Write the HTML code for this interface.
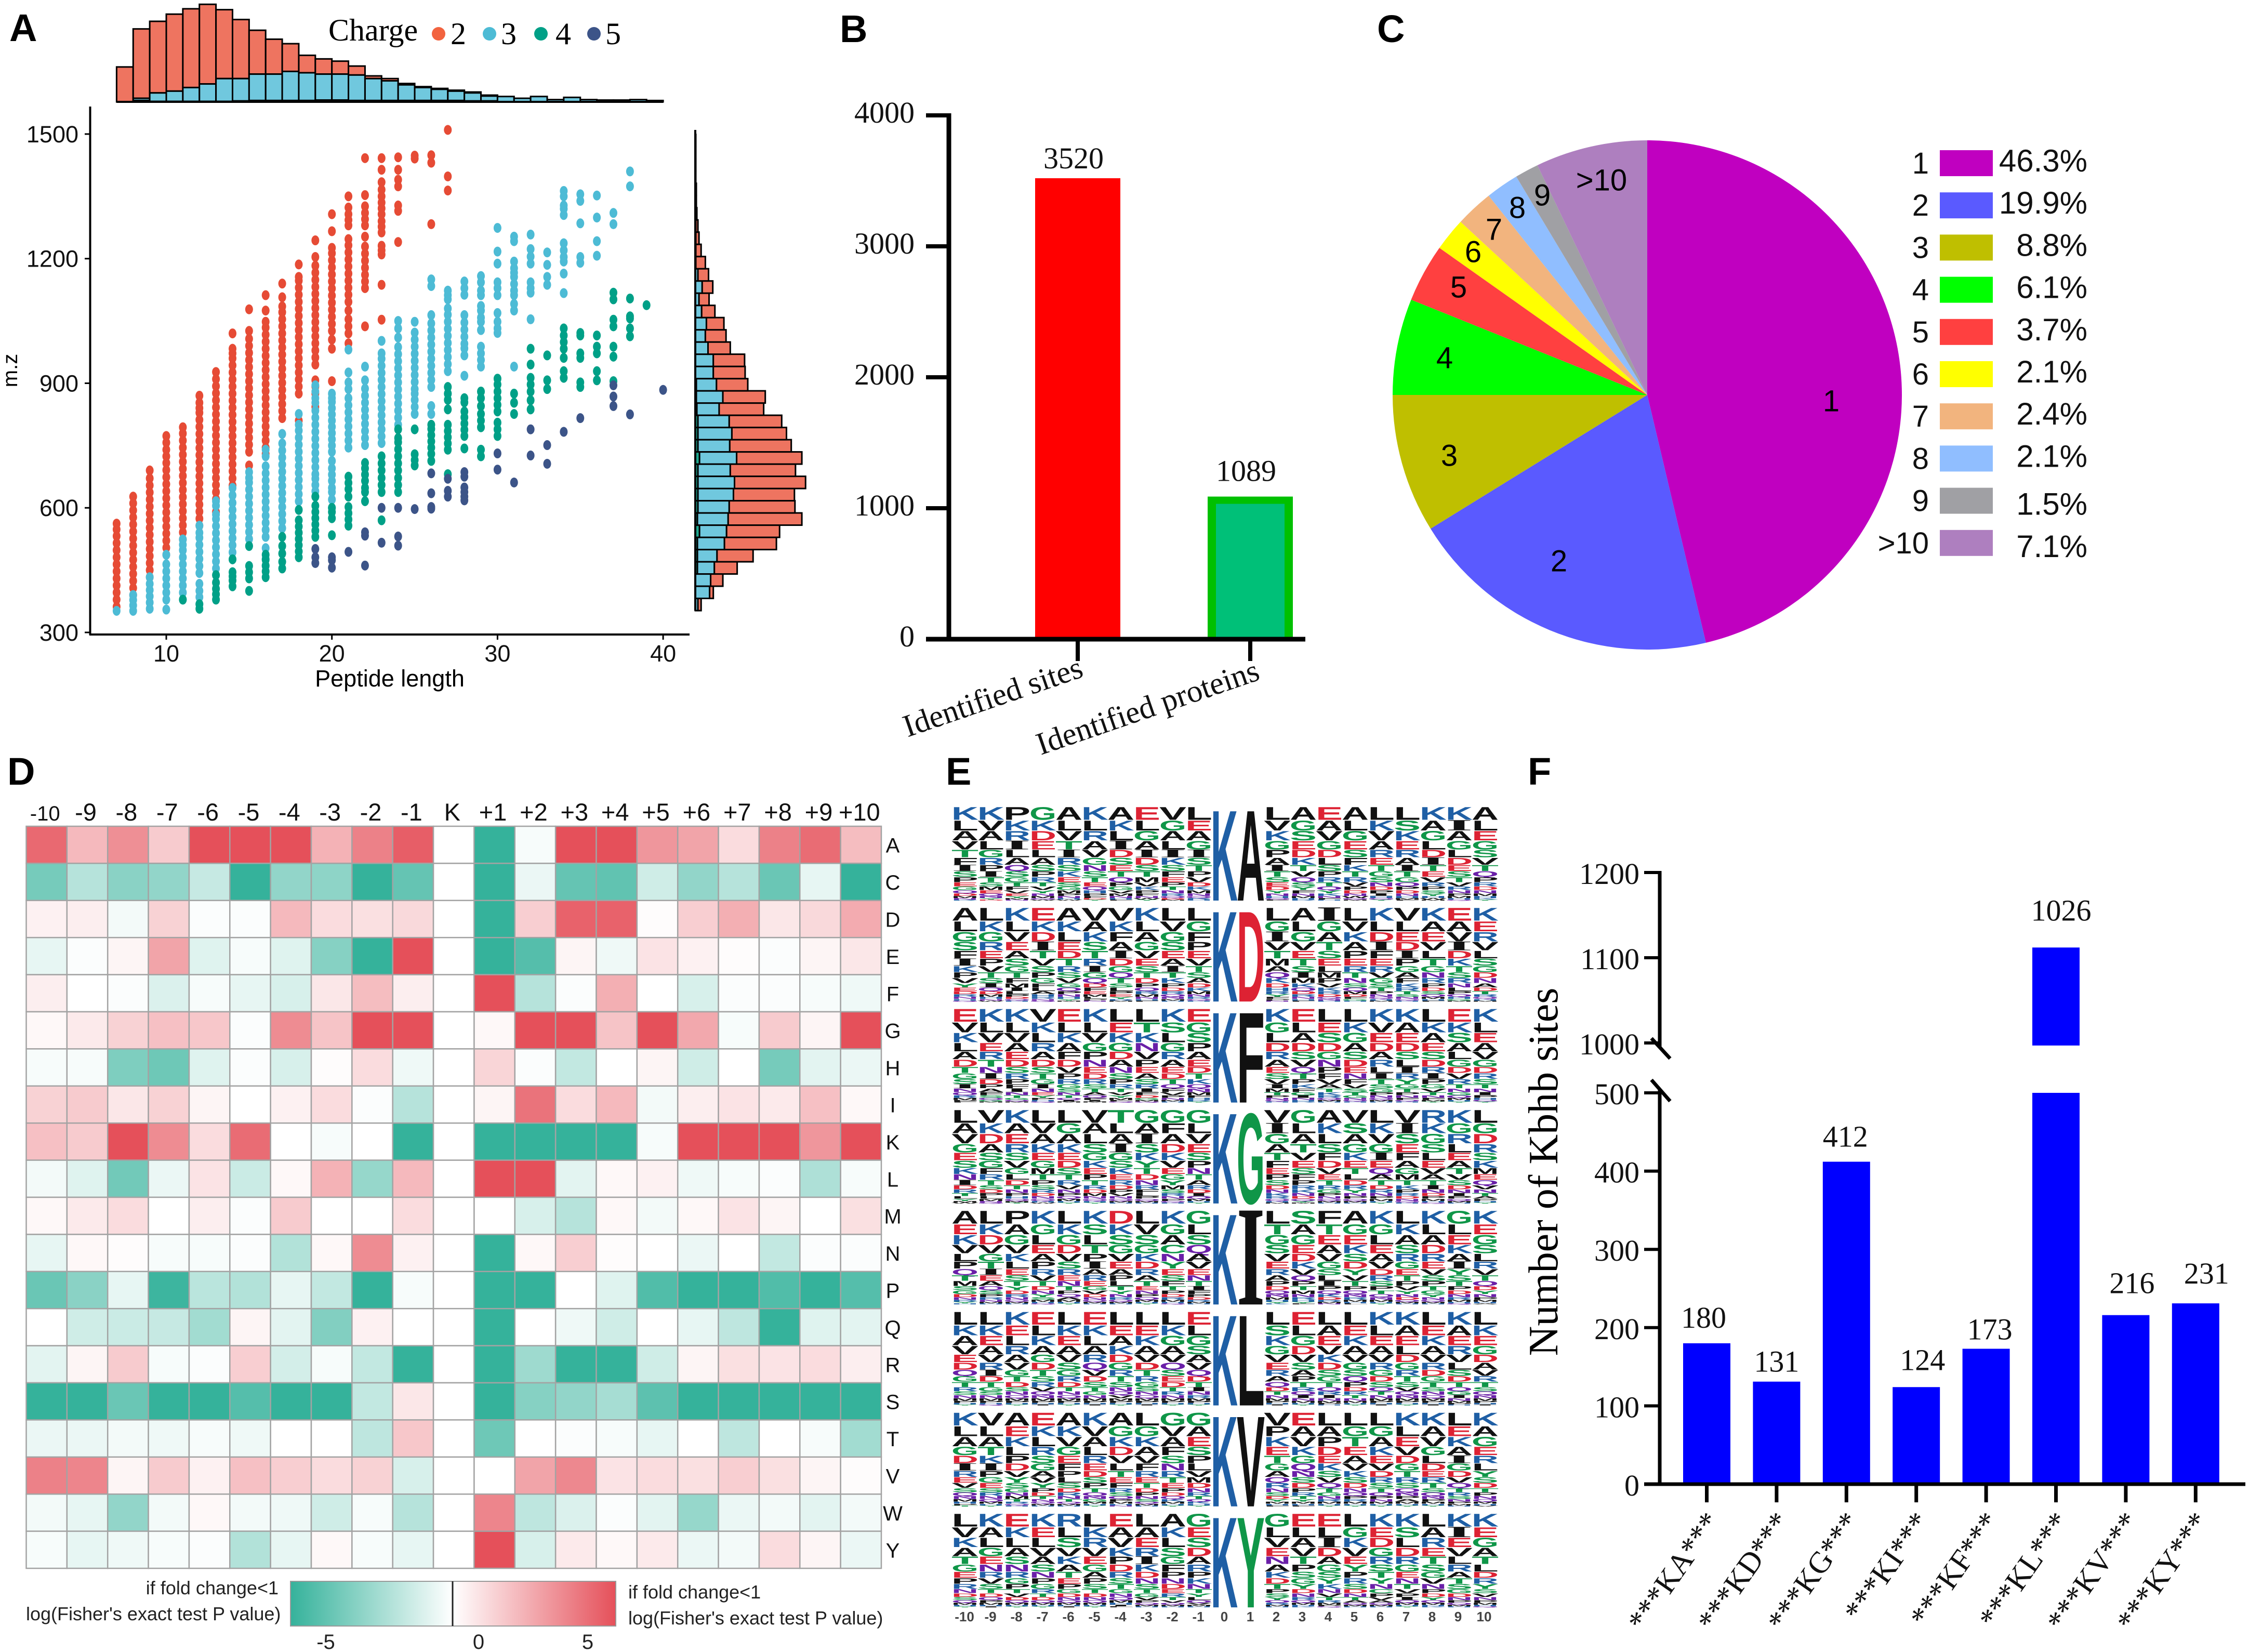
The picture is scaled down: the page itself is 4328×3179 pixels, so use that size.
<!DOCTYPE html>
<html lang="en">
<head>
<meta charset="utf-8">
<title>Kbhb proteomics multi-panel figure</title>
<style>
html,body{margin:0;padding:0;background:#fff;}
svg{display:block;}
.sans{font-family:"Liberation Sans",sans-serif;}
.serif{font-family:"Liberation Serif",serif;}
.panel-letter{font-family:"Liberation Sans",sans-serif;font-weight:bold;font-size:74px;fill:#000;}
</style>
</head>
<body>
<svg id="figure" xmlns="http://www.w3.org/2000/svg" width="4328" height="3179" viewBox="0 0 4328 3179">
<defs>
<linearGradient id="gradGreen" x1="0" x2="1" y1="0" y2="0"><stop offset="0" stop-color="#35B29B"/><stop offset="1" stop-color="#ffffff"/></linearGradient>
<linearGradient id="gradRed" x1="0" x2="1" y1="0" y2="0"><stop offset="0" stop-color="#ffffff"/><stop offset="1" stop-color="#E5505A"/></linearGradient>
</defs>
<rect width="4328" height="3179" fill="#fff"/>

<text class="panel-letter" x="18" y="79">A</text>
<text class="panel-letter" x="1616" y="81">B</text>
<text class="panel-letter" x="2650" y="81">C</text>
<text class="panel-letter" x="14" y="1510">D</text>
<text class="panel-letter" x="1820" y="1510">E</text>
<text class="panel-letter" x="2940" y="1510">F</text>

<g id="panelA">
  <text class="serif" x="632" y="78" font-size="60">Charge</text>
  <circle cx="844" cy="65" r="13" fill="#F2633F"/>
  <text class="serif" x="867" y="85" font-size="60">2</text>
  <circle cx="942" cy="65" r="13" fill="#4DBBD5"/>
  <text class="serif" x="964" y="85" font-size="60">3</text>
  <circle cx="1041" cy="65" r="13" fill="#00A087"/>
  <text class="serif" x="1069" y="85" font-size="60">4</text>
  <circle cx="1143" cy="65" r="13" fill="#3C5488"/>
  <text class="serif" x="1165" y="85" font-size="60">5</text>
  <text class="sans" x="750" y="1321" font-size="45" text-anchor="middle">Peptide length</text>
  <text class="sans" transform="translate(33,713) rotate(-90)" font-size="40" text-anchor="middle">m.z</text>
</g>

<g id="panelB"></g>

<g id="panelC">
  <g id="pieSlices"></g>
  <g class="sans" font-size="58" text-anchor="middle" dominant-baseline="central">
    <text x="3524" y="772" dominant-baseline="central">1</text>
    <text x="3000" y="1080" dominant-baseline="central">2</text>
    <text x="2789" y="877" dominant-baseline="central">3</text>
    <text x="2780" y="689" dominant-baseline="central">4</text>
    <text x="2807" y="553" dominant-baseline="central">5</text>
    <text x="2835" y="485" dominant-baseline="central">6</text>
    <text x="2875" y="442" dominant-baseline="central">7</text>
    <text x="2920" y="400" dominant-baseline="central">8</text>
    <text x="2968" y="376" dominant-baseline="central">9</text>
    <text x="3082" y="347" dominant-baseline="central">&gt;10</text>
  </g>
  <g id="pieLegend"></g>
</g>

<g id="panelD">
  <g id="heatCells"></g>
  <rect x="559" y="3043" width="312" height="86" fill="url(#gradGreen)"/>
  <rect x="871" y="3043" width="314" height="86" fill="url(#gradRed)"/>
  <rect x="559" y="3043" width="626" height="86" fill="none" stroke="#999" stroke-width="2"/>
  <line x1="871" x2="871" y1="3043" y2="3129" stroke="#222" stroke-width="3"/>
  <g class="sans" font-size="36" fill="#222">
    <text x="536" y="3068" text-anchor="end">if fold change&lt;1</text>
    <text x="50" y="3118">log(Fisher's exact test P value)</text>
    <text x="1209" y="3076">if fold change&lt;1</text>
    <text x="1209" y="3126">log(Fisher's exact test P value)</text>
  </g>
  <g class="sans" font-size="40" fill="#222" text-anchor="middle">
    <text x="627" y="3173">-5</text>
    <text x="921" y="3173">0</text>
    <text x="1131" y="3173">5</text>
  </g>
</g>

<g id="panelE"></g>

<g id="panelF">
  <text class="serif" transform="translate(2997,2255) rotate(-90)" font-size="80" text-anchor="middle">Number of Kbhb sites</text>
  <line x1="3178" y1="1998" x2="3214" y2="2037" stroke="#000" stroke-width="7"/>
  <line x1="3178" y1="2078" x2="3214" y2="2119" stroke="#000" stroke-width="7"/>
</g>

<script>
/* ---------- Panel A data ---------- */
const charge2Lengths=[7,8,9,10,11,12,13,14,15,16,17,18,19,20,21,22,23,24,25,26,27];
const charge2MZ=[
[362,379,396,413,430,447,464,481,498,515,532,548,562],
[390,407,424,441,458,475,492,509,526,543,560,577,594,611,627],
[433,450,467,484,501,518,535,552,569,586,603,620,637,654,671,690],
[487,504,521,538,555,572,589,606,623,640,657,674,691,708,724,740,757,773],
[524,541,558,575,592,609,626,643,660,677,694,711,728,745,762,779,794],
[557,574,591,608,625,642,659,676,693,710,727,744,761,778,795,812,829,840,853,870],
[590,621,638,655,672,689,706,723,740,757,774,791,808,825,842,859,876,893,910,927],
[654,671,688,705,722,739,756,773,790,807,824,841,858,875,892,909,926,943,960,972,983,1020],
[702,735,752,769,786,803,820,837,854,871,888,905,922,939,956,973,990,1007,1026,1078],
[730,745,762,779,796,813,830,847,864,881,898,915,932,949,966,983,1000,1017,1034,1048,1075,1112],
[816,833,850,867,884,901,918,935,952,969,986,1003,1020,1037,1054,1071,1085,1107,1140],
[810,875,892,909,926,943,960,977,994,1011,1028,1045,1062,1079,1096,1113,1130,1147,1156,1186],
[843,875,892,907,945,962,979,996,1013,1030,1047,1064,1081,1098,1115,1132,1149,1166,1183,1204,1244],
[905,983,1005,1026,1043,1060,1077,1094,1111,1128,1145,1162,1179,1196,1213,1226,1266,1307],
[996,1020,1037,1054,1075,1096,1113,1130,1147,1164,1181,1198,1215,1232,1247,1280,1293,1307,1323,1350],
[1037,1129,1145,1161,1178,1195,1212,1229,1253,1280,1295,1310,1326,1353,1442],
[1053,1137,1210,1220,1231,1263,1277,1290,1307,1321,1335,1350,1366,1384,1414,1442],
[1240,1315,1328,1374,1390,1414,1444],
[1441,1448],
[1283,1431,1449],
[1364,1398,1510]];
const charge3Lengths=[7,8,9,10,11,12,13,14,15,16,17,18,19,20,21,22,23,24,25,26,27,28,29,30,31,32,33,34,35,36,37,38];
const charge3MZ=[
[352],[352,365,378,390],[357,372,387,402,417,433],
[355,379,396,413,430,447,464,487],
[379,396,413,430,447,464,481,498,511,524],
[368,385,400,417,443,460,477,494,511,528,540,557],
[454,471,488,505,522,539,556,573,584,605,616],
[476,493,510,527,544,561,578,595,612,630,648],
[508,525,542,559,576,593,610,627,644,661,672,686],
[460,477,503,530,547,564,581,598,615,632,649,666,683,700,724,740],
[551,568,585,602,619,636,653,670,687,704,721,738,755,778],
[595,616,633,650,667,684,701,718,735,752,769,786,800,826],
[627,640,655,670,681,698,715,732,749,766,783,800,817,834,853,864,880,895],
[600,620,638,648,665,680,695,713,735,750,765,780,795,810,825,840,855,864,875],
[745,762,779,796,813,830,847,864,886,902,926,981],
[751,768,785,802,819,836,853,870,887,907,940],
[756,772,789,806,823,840,857,874,891,908,925,942,959,972,1002],
[800,817,834,851,868,885,902,919,936,953,970,987,1010,1032,1050],
[826,843,860,875,886,903,920,937,954,971,988,1005,1022,1048],
[826,845,891,908,925,942,959,976,993,1010,1027,1044,1064,1134,1150],
[875,929,946,963,980,997,1014,1031,1048,1065,1080,1102,1112,1123],
[918,967,984,995,1012,1029,1046,1064,1113,1129,1145],
[940,956,972,988,1028,1048,1058,1075,1086,1112,1123,1143,1158],
[1021,1032,1048,1069,1112,1129,1143,1188,1217,1274],
[940,1075,1091,1112,1123,1139,1156,1166,1177,1193,1242,1253],
[1054,1118,1129,1143,1188,1205,1223,1258],
[1137,1156,1185,1215],
[1117,1164,1193,1204,1220,1237,1305,1320,1328,1350,1363],
[1190,1204,1285,1339,1355],
[1207,1242,1299,1352],
[1283,1310],
[1374,1410]];
const charge4Lengths=[11,12,13,14,15,16,17,18,19,20,21,22,23,24,25,26,27,28,29,30,31,32,33,34,35,36,37,38,39];
const charge4MZ=[
[379],[357,368],[379,392,405,420,438],[411,425,435,445,476],[400,430,445,460,508],
[433,447,461,475,487],[454,470,490,508,530],[481,495,510,525,540,555,570,595],
[530,545,560,575,590,605,627],[534,575,590,600],[557,572,587,602,627,645,660,675],
[616,638,648,665,680,695,708],[570,638,655,672,690,707,724],
[638,655,672,690,707,724,741,758,768,789],[702,715,729,789],[713,730,745,760,775,790,800],
[681,740,755,770,785,800,837,860,875,891],[743,773,788,803,818,832,854,864],
[724,740,794,810,826,845,864,880],[773,789,805,832,848,864,880,897,911],[826,853,875],
[837,859,880,897,913,945,983],[886,907,967],[913,929,961,983,999,1015,1032],
[891,902,961,972,1015,1021],[907,929,972,988,1015],[905,964,988,1037,1053,1102,1118],
[1013,1032,1056,1061,1104],[1088]];
const charge5Lengths=[19,20,21,22,23,24,25,26,27,28,30,31,32,33,34,35,37,38,40];
const charge5MZ=[
[467,481,501],[456,474,481],[494],[461,533,541],[516,600],[509,531,600],[597],
[598,602,635,683],[627,641,670],[618,627,638,649,675,686],[692,731],[661],[726,789],
[706,751],[783],[816],[845,868,895],[825],[884]];
/* top histogram: counts per peptide-length bin (bins start at length 7) */
const topHistCharge4=[0,3,1,1,1,1,1,2,3,3,3,3,4,4,3,3,3,3,3,3,3,2,2,0,0,0,0,0,0,0,0,0,0];
const topHistCharge3=[0,5,19,23,31,39,51,50,59,59,65,62,58,58,57,49,44,35,29,25,21,18,11,12,8,12,5,10,5,4,4,5,3];
const topHistCharge2=[78,155,160,172,176,178,154,132,98,78,62,39,34,29,20,6,5,3,2,2,2,2,2,0,0,0,0,0,0,0,0,0,0];
/* right histogram: counts per m/z bin from low to high */
const rightHistCharge4=[0,0,0,4,4,4,8,4,5,5,5,5,8,5,5,5,3,2,2,0,0,0,0,0,0,0,0,0,0,0,0,0,0,0,0,0,0,0,0];
const rightHistCharge3=[5,27,29,32,37,51,51,58,59,67,69,61,70,60,64,59,42,50,38,34,34,24,19,21,12,7,13,5,1,1,1,1,0,0,0,0,0,0,0];
const rightHistCharge2=[6,7,23,43,68,98,100,139,124,115,134,123,123,116,103,99,84,80,59,60,59,42,39,33,25,19,20,20,18,10,6,4,3,2,2,1,1,1,1];
const lengthTicks=[10,20,30,40];
const mzTicks=[300,600,900,1200,1500];

/* ---------- Panel B data ---------- */
const identifiedCategories=["Identified sites","Identified proteins"];
const identifiedValues=[3520,1089];
const identifiedTicks=[0,1000,2000,3000,4000];

/* ---------- Panel C data ---------- */
const pieCategories=["1","2","3","4","5","6","7","8","9",">10"];
const piePercents=[46.3,19.9,8.8,6.1,3.7,2.1,2.4,2.1,1.5,7.1];
const pieColors=["#C000C0","#5A5AFF","#BFBF00","#00FF00","#FF4040","#FFFF00","#F2B47E","#90BEFF","#A0A0A4","#AE7FBF"];

/* ---------- Panel D data ---------- */
const heatColumns=["-10","-9","-8","-7","-6","-5","-4","-3","-2","-1","K","+1","+2","+3","+4","+5","+6","+7","+8","+9","+10"];
const heatRows=["A","C","D","E","F","G","H","I","K","L","M","N","P","Q","R","S","T","V","W","Y"];
const heatA=[4.3,2,3.2,1.5,5,5,5,2.2,3.6,4.6,0,-5,-.2,5,5,3,2.6,1,3.6,4.2,1.9];
const heatC=[-3.4,-1.8,-2.9,-2.7,-1.4,-5,-2.7,-2.8,-5,-3.8,0,-5,-.5,-3.8,-3.9,-1.2,-2.7,-1.8,-3.7,-.6,-5];
const heatD=[.4,.5,-.3,1.3,-.1,-.1,2,1,.9,1.1,0,-5,1.4,4.5,4.5,.1,1.4,2.3,.7,1.1,2.4];
const heatE=[-.6,-.1,.3,2.6,-.8,-.2,-.8,-3,-5,5,0,-5,-4.2,.3,-.4,.8,.4,.1,-.1,.3,.7];
const heatF=[.5,0,-.1,-.9,-.2,-.6,-1,.7,1.9,.5,0,5,-1.8,-.1,2.3,0,-1,-.1,-.1,-.2,-.4];
const heatG=[.2,.6,1.3,1.8,1.6,-.1,3.3,1.7,5,5,0,.2,5,5,1.7,5,2.5,-.2,1.5,.3,5];
const heatH=[-.2,-.2,-3.2,-3.6,-.8,-.1,-1,.1,1,-.4,0,1.2,-.1,-1.5,0,.3,-1.2,0,-3.4,-.7,-.5];
const heatI=[1.3,1.5,.7,1.3,.3,0,.4,1,-.1,-1.8,0,.3,4,1,2,-.3,.5,.8,.6,1.8,.2];
const heatK=[1.8,1.5,5,3.3,1,4.2,0,-.2,0,-5,0,-5,-5,-5,-5,-.2,5,5,5,3,5];
const heatL=[-.3,-.8,-3.5,-.5,.8,-1.3,.2,2.2,-2.6,2,0,5,5,-.7,.2,.4,-.4,-.2,-.1,-2,-.2];
const heatM=[.2,.6,1,0,.5,-.1,1.5,0,0,1,0,0,-1,-1.8,.2,-.3,.2,.8,.3,0,.9];
const heatN=[-.6,.2,.1,-.2,-.2,-.1,-1.9,.2,3.3,.4,0,-5,.2,1.4,.1,0,-.5,0,-1.5,-.1,-.1];
const heatP=[-3.7,-2.9,-.6,-4.8,-1.7,-1.9,-.6,-1.5,-5,-.2,0,-5,-5,0,-.8,-4.3,-5,-5,-4.3,-5,-4.2];
const heatQ=[0,-1.2,-1.3,-1.4,-2.3,.3,-.7,-3.1,.4,0,0,-5,0,-.4,-1.2,0,-.6,-1.6,-5,-.8,-.7];
const heatR=[-.7,.3,1.5,-.2,-.1,1.4,-1.1,-.2,-1.5,-5,0,-5,-2.4,-5,-5,-1.2,.3,.9,.8,1,.5];
const heatS=[-5,-5,-3.7,-5,-5,-4.2,-5,-5,-1.5,.7,0,-5,-3,-2.7,-2.2,-4,-5,-5,-5,-5,-5];
const heatT=[-.5,-.5,-.3,-.4,-.2,-.4,0,0,-1.6,1.6,0,-3.6,0,-.1,-.2,-.6,0,-1.6,0,-.2,-2.3];
const heatV=[3.6,3.5,.3,1.5,.4,1.8,1.4,1,1.3,-1,0,0,2.6,3.4,.8,1,.9,1.4,.9,.3,.1];
const heatW=[-.3,-.6,-2.7,-.3,.2,-.3,-.4,-1.2,-.2,-1.8,0,3.5,-1.6,-.9,-.1,-.7,-2.6,-.5,-.3,-.7,-.3];
const heatY=[-.2,-.6,-.4,-.2,-.1,-1.9,-.6,.2,-.2,-.6,0,5,-1,.6,.2,.6,-.5,-.3,1,.3,-.5];
const heatMatrix=[heatA,heatC,heatD,heatE,heatF,heatG,heatH,heatI,heatK,heatL,heatM,heatN,heatP,heatQ,heatR,heatS,heatT,heatV,heatW,heatY];

/* ---------- Panel E data: per-position residues, most to least frequent ---------- */
const logoResidueShare=[26,20,19,17,15,14,12,11,10,8,7,6,5,4,3,2];
const logoPositions=["-10","-9","-8","-7","-6","-5","-4","-3","-2","-1","0","1","2","3","4","5","6","7","8","9","10"];
const logoCentral=["A","D","F","G","I","L","V","Y"];
const logoKA="KLAVTFISPEGQDMNR KVALGRPITSMEQNYD PKRILAQSGTFVEYMN GKDELASPRTVYNMQW ALVTIRSKESGMPNHW KLRAVGNSTEQHPFDY AKLIDSETQPGVMNHF ELGAIDSTMVKPFNWY VGALIKSFEPTNRQDM LEAGISTPVDKMNQRH LVKGPAITSEDYNHQF AGSEDKTVQSYFNMHR EAVGDLSPRTQYKNFH ALGESFKTRVPDNWQM LKVARETGSNDPIHQY LSKERAITGQPDNHMF KAGLDITEVRPSYHWM KIAGLDESTVRNPMHQ ALEGSVTQPRDNMHKY".split(" ");
const logoKD="ALGSFIKPVYEDRNHQ LKGREPVTSIQDMHNW KLVEASGTFMILPDQH EKDITVSPGFLAHRNQ AKLEDTRSVGQPNHYM VAKSTRIGQDFEMLPN VKFAIDGQTSLPEYRM KLAGVESTDPQRMNHF LVGSEAITKPDRQNMH LGFPEVTSADKMNRQH LGIVTMAQKDHRYFPN ALGVETSIMKQDRNHF IGATSELMPVKRDQNH LVKAPERTNSQMDFGH KLDIFERVGSTPNQHM VLEDIPGAFKRTSNQH KAEVLTGNRPDSQMHF EAVIDKTSRNLPQHGM KERVLSGDNADTRQHM".split(" ");
const logoKF="EVKLADTGSINQRMPF KLVERTNIDPAFSQGM KLVAEDSRPFINTGQM VKLRADSTGINEYPHQ ELKAFDVPRGSNTQIM KLVGPNEDRSTAQFIM LEKGDANSPRTVYMFQ LTKNVPEASRIFDGMQ KSLGRAEDTQFVPNMH EGSPAEDTKQNMFHRY KGLDRAESVIMTPNQH ELADSVQTPKFGINHR LESDGNPFVATKRQMH LKGASDENFVSTGNQH KVEDARLITSGPNQMH KAEDSLIRYGTPNFQH LKAESDRIPGVTNFMY EKSALGDVRTNGQMHY KLEAVGDRSTNIPHQY".split(" ");
const logoKG="LAVGESKNIDRTLYMW VKDASGFRTSDPLMNQ KAERSVGLDTNPHQMY LVAKEGMTPSRDNQHW LGAKEDSTRVNPQMHY VALSGKEPTRDMNQHY TLAIGSKERDPVNQMH GAISKYTDNRFLPQMH GFADKVEGYMSRNPQH GLVESPNTARDIQMHY VIGATFEPSDNKRQHM GLATVESFPRKNDQYM AKLSFDVETRGPNQMH VSAGKETLDRYNPQMH LKVGIEQATDRNPMHY VISEFAGMTKPRDNQH RKGSLEVATINDPMHQ KGRLEATVSDNIPQMH LGDRSKMEQVNTAPHY".split(" ");
const logoKI="AEKVLPQTMSGDNRYH LKDVGTIEAQSPRNMH PAGVKLESTYDRNQMH KGLEAPRVTDNYSMHQ LKGDVSRENTPQAMHY KSLTPIAREGVDNQMH DKSGVEAPLTYNRQMH LVSGKDRATENPQMHY KGACNYESFTPDRMHQ GLSQAVENTIFPDRMH LTGSVERAPDQNMHYK SAGEDKVQPTMNRHYF FTEAVGSLIPQKDRMN AGEKSDYVTPQNRMHL KGLEAVDRSPTQNMHY LKASRGETPVYNDQMH KLADREVSPTGYNQMH GLEKAIYSTPDNRMHQ KEGSLRVTQDYNPMHA".split(" ");
const logoKL="LKAVEDQGTRSNMPHY LKEAVRIDTGSNMPHQ KELRAVGTDSNQMPHY ELKAGDTSRVQNMPHI LKEAVSGRDTNQMPHY EKLARQVDSTGNMPHI LEAKDGRTSNQVMPHY LEKAVDTRGSNQMPHI LKGAVQSEDTRNMPHY ELGSAVQDTINRMPHY LSKGVERAQDTNMPHI ELGDVSAPTRQINMHY LAEVKDSGTQRINMPH LEKAVGSQPDRTNMHY KLEAVRGDSQTNMPHI KAELDGRTSVQNMPHY LEKAVRDGTSNQMPHI KAERVLSDTQGINMPH LKEGDAVRTSQNMPHI".split(" ");
const logoKV="KLAGDIREVSQNMHPT VLATKIPGESRNQMHY AEKLPDVYSGNMTRQH EKLRSGAVYPDTNQMH AKVGEFPLSDRNTQMH KVALREDSPTQNGMHY AGKDVLTEFRSQPMHN LGKAVFRETDPNSQMH GVAFSNRTEPDQKMHY GAESPLVMDNRTQKHY VPKETGAQRNSDYMHF EAVKGQNSDPRTYMHF LAPDEKSVQTGNRMHY LGTEAVKSDNQPRMHY LGAKEVDRSTQPNMHY KLEVDGTRSQNPAMHY KAVGLDERTSQNPMHY LEKAIGDVQTRSNPMH KAGERLYSDTPNQMHV".split(" ");
const logoKY="LVKATGEPRNDSQMHY KALGENRVSTDQPMHI EKLASNRGPTVDQMHY KELVASNPGRTDQMHY RLSVKATEPGDNQMHI LKRVEGAPSTDNQMHY EAVKPDRSTGNQMHIL LAERIKDNSTGVPQMH AKLSGFPNDERTVQMH GESDARPKNTYLQVMH GLVENAKDTPSYQRMH ELAVTPSGYDNRQMHK ELIDAGSYKNVTRMPQ LGKVEYPRSDNTAQMH KEDGRSTYNCPVAQMH KSLDRGENTVPIQMHY LARETSGVNPDYQMHK KIEVLRATSGDNPQMH KEGATLDRYSVNPMHQ".split(" ");
const logoMatrix=[logoKA,logoKD,logoKF,logoKG,logoKI,logoKL,logoKV,logoKY];

/* ---------- Panel F data ---------- */
const motifCategories=["***KA***","***KD***","***KG***","***KI***","***KF***","***KL***","***KV***","***KY***"];
const motifBarValues=[180,131,412,124,173,1112,216,231];
const motifPrintedValues=["180","131","412","124","173","1026","216","231"];
const motifTicks=[0,100,200,300,400,500,1000,1100,1200];

/* ---------- drawing ---------- */
const NS="http://www.w3.org/2000/svg";
function add(parent,tag,attrs,text){
  const e=document.createElementNS(NS,tag);
  for(const k in attrs){e.setAttribute(k,attrs[k]);}
  if(text!==undefined){e.textContent=text;}
  parent.appendChild(e);
  return e;
}
const SANS='"Liberation Sans",sans-serif';
const SERIF='"Liberation Serif",serif';

/* Panel A */
(function(){
  const g=document.getElementById('panelA');
  const xA=l=>320+(l-10)*31.87;
  const yA=m=>1217-(m-300)*0.7992;
  const topScale=0.861, topBase=196;
  const xStart=7;
  function topBar(i,base,h,fill){
    const r=add(g,'rect',{x:xA(xStart+i),y:topBase-(base+h)*topScale,width:xA(xStart+i+1)-xA(xStart+i),height:h*topScale,fill:fill,stroke:'#000','stroke-width':3});
    
    
  }
  topHistCharge2.forEach((v,i)=>{
    const a=topHistCharge4[i],b=topHistCharge3[i];
    if(v>0){topBar(i,a+b,v,'#EE7460');}
    if(b>0){topBar(i,a,b,'#70C8DE');}
    if(a>0){topBar(i,0,a,'#1FA88F');}
  });
  const base=add(g,'line',{x1:xA(7),x2:xA(40),y1:topBase,y2:topBase,stroke:'#000','stroke-width':4});
  
  

  const rScale=1.0204, rBase=1338, mzStart=352.5, mzBin=29.4;
  function rightBar(i,start,v,fill){
    const y1=yA(mzStart+i*mzBin), y2=yA(mzStart+(i+1)*mzBin);
    const r=add(g,'rect',{x:rBase+start*rScale,y:y2,width:v*rScale,height:y1-y2,fill:fill,stroke:'#000','stroke-width':3});
    
    
  }
  rightHistCharge2.forEach((v,i)=>{
    const a=rightHistCharge4[i],b=rightHistCharge3[i];
    if(a>0){rightBar(i,0,a,'#1FA88F');}
    if(b>0){rightBar(i,a,b,'#70C8DE');}
    if(v>0){rightBar(i,a+b,v,'#EE7460');}
  });
  const rb=add(g,'line',{x1:rBase,x2:rBase,y1:250,y2:1175,stroke:'#000','stroke-width':4});
  
  

  function scatter(lengths,values,color,name){
    lengths.forEach((l,i)=>{
      values[i].forEach(m=>{
        const c=add(g,'ellipse',{cx:xA(l),cy:yA(m),rx:7.5,ry:9.5,fill:color});
        
        
      });
    });
  }
  scatter(charge2Lengths,charge2MZ,'#E64B35','scatter-point-charge-2');
  scatter(charge3Lengths,charge3MZ,'#4DBBD5','scatter-point-charge-3');
  scatter(charge4Lengths,charge4MZ,'#00A087','scatter-point-charge-4');
  scatter(charge5Lengths,charge5MZ,'#3C5488','scatter-point-charge-5');

  const ax=add(g,'line',{x1:173.5,x2:173.5,y1:205,y2:1222,stroke:'#000','stroke-width':4});
  
  
  const ay=add(g,'line',{x1:172,x2:1327,y1:1221,y2:1221,stroke:'#000','stroke-width':4});
  
  
  lengthTicks.forEach(t=>{
    const k=add(g,'line',{x1:xA(t),x2:xA(t),y1:1221,y2:1231,stroke:'#000','stroke-width':3});
    
    
    const s=add(g,'text',{x:xA(t),y:1273,'font-size':45,'text-anchor':'middle','font-family':SANS,fill:'#111'},String(t));
    
    
  });
  mzTicks.forEach(t=>{
    const k=add(g,'line',{x1:163,x2:173,y1:yA(t),y2:yA(t),stroke:'#000','stroke-width':3});
    
    
    const s=add(g,'text',{x:151,y:yA(t)+16,'font-size':45,'text-anchor':'end','font-family':SANS,fill:'#111'},String(t));
    
    
  });
})();

/* Panel B */
(function(){
  const g=document.getElementById('panelB');
  const yB=v=>1230-v*0.252;
  const barLeft=[0,1].map(i=>1992+i*332);
  const barW=164;
  const labelGap=[19,30];
  identifiedValues.forEach((v,i)=>{
    if(i===0){
      const r=add(g,'rect',{x:barLeft[i],y:yB(v),width:barW,height:1230-yB(v),fill:'#FF0000'});
      
      
    }else{
      const r=add(g,'rect',{x:barLeft[i],y:yB(v),width:barW,height:1230-yB(v),fill:'#00C000'});
      
      
      const n=add(g,'rect',{x:barLeft[i]+16,y:yB(v)+14,width:barW-32,height:1230-yB(v)-14,fill:'#00C078'});
      
      
    }
    const s=add(g,'text',{x:barLeft[i]+barW/2-8,y:yB(v)-labelGap[i],'font-size':58,'text-anchor':'middle','font-family':SERIF,fill:'#111'},String(v));
    
    
    const cx=barLeft[i]+barW/2;
    const k=add(g,'line',{x1:cx,x2:cx,y1:1230,y2:1272,stroke:'#000','stroke-width':8});
    
    
    const lx=cx-157+i*-34, ly=i===0?1360:1380;
    const c=add(g,'text',{transform:'translate('+lx+','+ly+') rotate(-19)','font-size':61,'text-anchor':'middle','font-family':SERIF,fill:'#111'},identifiedCategories[i]);
    
    
  });
  const ax=add(g,'line',{x1:1826,x2:1826,y1:218,y2:1234,stroke:'#000','stroke-width':9});
  
  
  const ay=add(g,'line',{x1:1782,x2:2512,y1:1230,y2:1230,stroke:'#000','stroke-width':9});
  
  
  identifiedTicks.forEach(t=>{
    const k=add(g,'line',{x1:1782,x2:1826,y1:yB(t),y2:yB(t),stroke:'#000','stroke-width':8});
    
    
    const s=add(g,'text',{x:1760,y:yB(t)+14,'font-size':58,'text-anchor':'end','font-family':SERIF,fill:'#111'},String(t));
    
    
  });
})();

/* Panel C */
(function(){
  const g=document.getElementById('pieSlices');
  const cx=3170,cy=760,R=490;
  const total=piePercents.reduce((a,b)=>a+b,0);
  let acc=0;
  piePercents.forEach((p,i)=>{
    const a0=acc/total*2*Math.PI;
    acc+=p;
    const a1=acc/total*2*Math.PI;
    const large=(a1-a0)>Math.PI?1:0;
    const d='M'+cx+' '+cy+'L'+(cx+R*Math.sin(a0))+' '+(cy-R*Math.cos(a0))+'A'+R+' '+R+' 0 '+large+' 1 '+(cx+R*Math.sin(a1))+' '+(cy-R*Math.cos(a1))+'Z';
    const s=add(g,'path',{d:d,fill:pieColors[i]});
    
    
  });
  const l=document.getElementById('pieLegend');
  pieCategories.forEach((c,i)=>{
    const y=314+i*81.2;
    const t=add(l,'text',{x:3712,y:y+20,'font-size':58,'text-anchor':'end','font-family':SANS,fill:'#111'},c);
    
    
    const r=add(l,'rect',{x:3733,y:y-25,width:102,height:50,fill:pieColors[i]});
    
    
    const v=add(l,'text',{x:4017,y:y+16+(i>=8?11:0),'font-size':60,'text-anchor':'end','font-family':SANS,fill:'#111'},piePercents[i].toFixed(1)+'%');
    
    
  });
})();

/* Panel D */
(function(){
  const g=document.getElementById('heatCells');
  const x0=50.5,y0=1590,cw=(1696-50.5)/21,ch=(3018-1590)/20;
  const mix=(a,b,t)=>Math.round(a+(b-a)*t);
  function color(v){
    const t=Math.min(1,Math.abs(v)/5);
    const c=v<0?[53,178,155]:[229,80,90];
    return 'rgb('+mix(255,c[0],t)+','+mix(255,c[1],t)+','+mix(255,c[2],t)+')';
  }
  heatMatrix.forEach((row,j)=>{
    row.forEach((v,i)=>{
      const r=add(g,'rect',{x:x0+i*cw,y:y0+j*ch,width:cw,height:ch,fill:color(v),stroke:'#a3a3a3','stroke-width':2.5});
      
      
    });
  });
  heatColumns.forEach((c,i)=>{
    const small=c==='-10';
    const t=add(g,'text',{x:x0+(i+.5)*cw-3,y:1579,'font-size':small?40:47,'text-anchor':'middle','font-family':SANS,fill:'#111'},c);
    
    
  });
  heatRows.forEach((c,j)=>{
    const t=add(g,'text',{x:1718,y:y0+(j+.5)*ch+15,'font-size':40,'text-anchor':'middle','font-family':SANS,fill:'#111'},c);
    
    
  });
})();

/* Panel E */
(function(){
  const g=document.getElementById('panelE');
  const rowTop=i=>1551+i*194.3;
  const rowH=182;
  const colors={K:'#1F5FA5',R:'#1F5FA5',H:'#1F5FA5',D:'#DD2233',E:'#DD2233',G:'#0F9648',S:'#0F9648',T:'#0F9648',Y:'#0F9648',C:'#0F9648',N:'#6A1FA8',Q:'#6A1FA8'};
  const shareTotal=logoResidueShare.reduce((a,b)=>a+b,0);
  function letter(ch,x,y,w,h,name){
    const isI=ch==='I';
    const t=add(g,'text',{x:x,y:y,'font-size':h/(isI?0.66:0.729),'font-family':isI?SERIF:SANS,'font-weight':'bold',textLength:w,lengthAdjust:'spacingAndGlyphs',fill:colors[ch]||'#111','text-rendering':'geometricPrecision'},ch);
    
    
  }
  const colX=i=>i<10?1832+i*50:2433+(i-10)*50;
  logoMatrix.forEach((cols,r)=>{
    const top=rowTop(r);
    cols.forEach((s,i)=>{
      let y=top;
      s.split('').forEach((ch,k)=>{
        const h=logoResidueShare[k]/shareTotal*rowH;
        y+=h;
        letter(ch,colX(i)-1,y,52,h*0.97,'logo-residue');
      });
    });
    letter('K',2330,top+rowH,52,rowH,'logo-central-lysine');
    letter(logoCentral[r],2380,top+rowH,54,rowH,'logo-central-residue');
  });
  logoPositions.forEach((p,i)=>{
    const n=+p;
    const x=n<0?1856+(n+10)*50:2356+n*50;
    const t=add(g,'text',{x:x,y:3120,'font-size':26,'text-anchor':'middle','font-family':SANS,'font-weight':'bold',fill:'#444'},p);
    
    
  });
})();

/* Panel F */
(function(){
  const g=document.getElementById('panelF');
  const yF=v=>v<=500?2856-v*1.506:2007-(v-1000)*1.64;
  const bx=i=>3239+i*134.4;
  const bw=91;
  const shiftX=[-6,0,-2,12,7,10,12,21];
  const gap=[49,38,48,52,37,71,61,57];
  motifBarValues.forEach((v,i)=>{
    const top=yF(Math.min(v,500));
    const r=add(g,'rect',{x:bx(i),y:top,width:bw,height:2856-top,fill:'#0000FF'});
    
    
    if(v>500){
      const u=add(g,'rect',{x:bx(i),y:yF(v),width:bw,height:yF(997)-yF(v),fill:'#0000FF'});
      
      
    }
    const cx=bx(i)+bw/2;
    const t=add(g,'text',{x:cx+shiftX[i],y:yF(v)-gap[i]+19,'font-size':58,'text-anchor':'middle','font-family':SERIF,fill:'#111'},motifPrintedValues[i]);
    
    
    const k=add(g,'line',{x1:cx,x2:cx,y1:2856,y2:2891,stroke:'#000','stroke-width':7});
    
    
    const c=add(g,'text',{transform:'translate('+(cx+28)+',2928) rotate(-55)','font-size':59,'text-anchor':'end','font-family':SERIF,fill:'#111'},motifCategories[i]);
    
    
  });
  const a1=add(g,'line',{x1:3194,x2:3194,y1:1676,y2:2016,stroke:'#000','stroke-width':7});
  
  
  const a2=add(g,'line',{x1:3194,x2:3194,y1:2098,y2:2859,stroke:'#000','stroke-width':7});
  
  
  const a3=add(g,'line',{x1:3164,x2:4321,y1:2856,y2:2856,stroke:'#000','stroke-width':7});
  
  
  motifTicks.forEach(t=>{
    const y=yF(t);
    const k=add(g,'line',{x1:3164,x2:3194,y1:y,y2:y,stroke:'#000','stroke-width':6});
    
    
    const s=add(g,'text',{x:3155,y:y+22,'font-size':58,'text-anchor':'end','font-family':SERIF,fill:'#111'},String(t));
    
    
  });
})();
</script>
</svg>
</body>
</html>
